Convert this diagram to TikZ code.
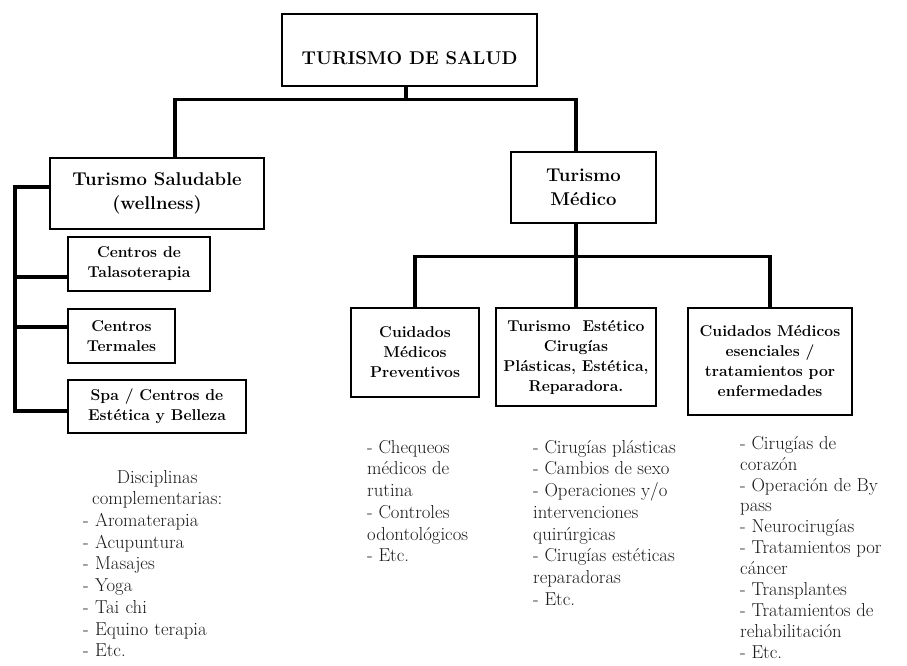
\documentclass[tikz,border=0pt]{standalone}
\usepackage{tikz}
\begin{document}
\begin{tikzpicture}[x=1pt, y=-1pt]

	\tikzstyle{caja}=[draw, line width=1.6pt, align=center, inner sep=0pt, font=\bfseries\fontsize{15.7}{20}\selectfont]
	\tikzstyle{grande}=[font=\bfseries\fontsize{18.5}{24}\selectfont]
	\tikzstyle{linea}=[line width=3.2pt, line join=miter]
	\tikzstyle{lista}=[anchor=north west, align=left, inner sep=0pt, text=black!90, font=\fontsize{18.7}{21.7}\selectfont]

	\useasboundingbox (0,0) rectangle (907,665);

	\coordinate (t_0) at (409.5, 50); % RAIZ
	\coordinate (t_1_1) at (157, 193.5); % SALUDABLE
	\coordinate (t_1_2) at (583.5, 187.5); % MEDICO
	\coordinate (t_2_1) at (139, 264); % HIJOS SALUDABLE
	\coordinate (t_2_2) at (121.5, 336); % HIJOS SALUDABLE
	\coordinate (t_2_3) at (157, 406.5); % HIJOS SALUDABLE
	\coordinate (t_3_1) at (415, 352.5); % HIJOS MEDICO
	\coordinate (t_3_2) at (576, 357); % HIJOS MEDICO
	\coordinate (t_3_3) at (770, 361.5); % HIJOS MEDICO
	\coordinate (riel) at (15, 0);

	\node[caja, grande, minimum width=255, minimum height=72, text height=30pt, text depth=2pt] (t_0) at (t_0) {TURISMO DE SALUD}; % RAIZ

	\node[caja, grande, minimum width=214, minimum height=71] (t_1_1) at (t_1_1) {Turismo Saludable\\(wellness)}; % SALUDABLE
	\node[caja, grande, minimum width=145, minimum height=71] (t_1_2) at (t_1_2) {Turismo\\Médico}; % MEDICO

	\node[caja, minimum width=142, minimum height=54] (t_2_1) at (t_2_1) {Centros de\\Talasoterapia};
	\node[caja, minimum width=107, minimum height=54] (t_2_2) at (t_2_2) {Centros\\Termales};
	\node[caja, minimum width=178, minimum height=53] (t_2_3) at (t_2_3) {Spa / Centros de\\Estética y Belleza};

	\node[caja, minimum width=128, minimum height=89] (t_3_1) at (t_3_1) {Cuidados\\Médicos\\Preventivos};
	\node[caja, minimum width=160, minimum height=98] (t_3_2) at (t_3_2) {Turismo\ \ Estético\\Cirugías\\Plásticas, Estética,\\Reparadora.};
	\node[caja, minimum width=164, minimum height=107] (t_3_3) at (t_3_3) {Cuidados Médicos\\esenciales /\\tratamientos por\\enfermedades};

	%%%%%%%%%%%%%%%%%%%%%%%%%%%%%%%%%
	%%%%%%%% CONEXIONES %%%%%%%%
	\draw[linea] ([xshift=-3.5pt]t_0.south) -- ++(0,13) coordinate (bus_0);
	\draw[linea] (bus_0) -| ([xshift=18pt]t_1_1.north);
	\draw[linea] (bus_0) -| ([xshift=-7.5pt]t_1_2.north);

	\draw[linea] ([yshift=6.5pt]t_1_1.west) -| ([yshift=-4.5pt]riel |- t_2_3.west) -- ([yshift=-4.5pt]t_2_3.west);
	\draw[linea] ([yshift=-13pt]riel |- t_2_1.west) -- ([yshift=-13pt]t_2_1.west);
	\draw[linea] ([yshift=9pt]riel |- t_2_2.west) -- ([yshift=9pt]t_2_2.west);

	\draw[linea] ([xshift=-7.5pt]t_1_2.south) -- ++(0,33) coordinate (bus_1);
	\draw[linea] (bus_1) -| (t_3_1.north);
	\draw[linea] (bus_1) -- (t_3_2.north);
	\draw[linea] (bus_1) -| (t_3_3.north);
	%%%%%%%%%%%%%%%%%%%%%%%%%%%%%%%%%

	%%%%%%%%%%%%%%%%%%%%%%%%%%%%%%%%%
	%%%%%%%% LISTAS %%%%%%%%
	\node[lista, text width=148] (l_1) at (83, 470) {\makebox[\linewidth][c]{Disciplinas}\\\makebox[\linewidth][c]{complementarias:}\\- Aromaterapia\\- Acupuntura\\- Masajes\\- Yoga\\- Tai chi\\- Equino terapia\\- Etc.};
	\node[lista] (l_2) at (367, 440) {- Chequeos\\médicos de\\rutina\\- Controles\\odontológicos\\- Etc.};
	\node[lista] (l_3) at (533, 440) {- Cirugías plásticas\\- Cambios de sexo\\- Operaciones y/o\\intervenciones\\quirúrgicas\\- Cirugías estéticas\\reparadoras\\- Etc.};
	\node[lista, font=\fontsize{18.7}{20.9}\selectfont] (l_4) at (740, 436) {- Cirugías de\\corazón\\- Operación de By\\pass\\- Neurocirugías\\- Tratamientos por\\cáncer\\- Transplantes\\- Tratamientos de\\rehabilitación\\- Etc.};
	%%%%%%%%%%%%%%%%%%%%%%%%%%%%%%%%%

\end{tikzpicture}
\end{document}
